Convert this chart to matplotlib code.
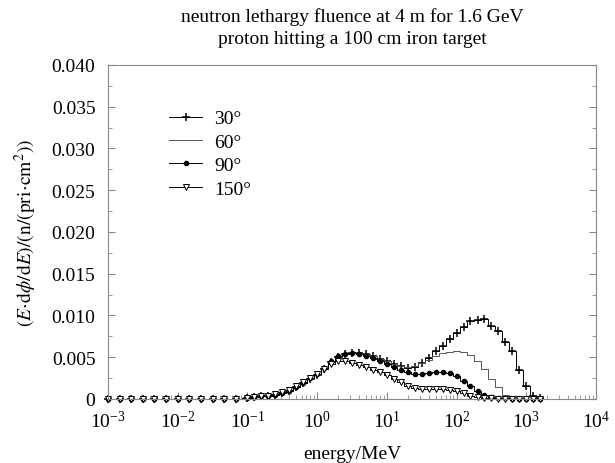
import matplotlib
matplotlib.use("Agg")
import matplotlib.pyplot as plt
from matplotlib.ticker import MultipleLocator, FuncFormatter, LogLocator, NullFormatter

plt.rcParams["font.family"] = ["Liberation Serif", "DejaVu Serif"]
plt.rcParams["mathtext.fontset"] = "stix"

# bin centres (MeV): 1/6 decade below 0.1 MeV, 0.1 decade above
energy = [0.001, 0.00147, 0.00215, 0.00316, 0.00464, 0.00681,
          0.01, 0.0147, 0.0215, 0.0316, 0.0464, 0.0681,
          0.1, 0.126, 0.158, 0.2, 0.251, 0.316, 0.398, 0.501, 0.631, 0.794,
          1.0, 1.26, 1.58, 2.0, 2.51, 3.16, 3.98, 5.01, 6.31, 7.94,
          10.0, 12.6, 15.8, 20.0, 25.1, 31.6, 39.8, 50.1, 63.1, 79.4,
          100.0, 126.0, 158.0, 200.0, 251.0, 316.0, 398.0, 501.0, 631.0, 794.0,
          1000.0, 1259.0, 1585.0]

low = [0.0] * 12

deg30 = low + [0.0001, 0.0002, 0.0003, 0.0004, 0.0005, 0.0007, 0.0010, 0.0014, 0.0019, 0.0024,
               0.0029, 0.0036, 0.0044, 0.0050, 0.0054, 0.0055, 0.0055, 0.0054, 0.0051, 0.0048,
               0.0045, 0.0042, 0.0039, 0.0037, 0.0038, 0.0043, 0.0049, 0.0057, 0.0063, 0.0072,
               0.0079, 0.0086, 0.0093, 0.0095, 0.0096, 0.0087, 0.0081, 0.0068, 0.0057, 0.0035,
               0.0016, 0.0003, 0.0001]
deg60 = low + [0.0001, 0.0002, 0.0003, 0.0004, 0.0005, 0.0007, 0.0010, 0.0014, 0.0019, 0.0024,
               0.0029, 0.0036, 0.0044, 0.0050, 0.0054, 0.0055, 0.0055, 0.0054, 0.0051, 0.0048,
               0.0045, 0.0042, 0.0039, 0.0038, 0.0039, 0.0043, 0.0047, 0.0052, 0.0055, 0.0056,
               0.0057, 0.0056, 0.0053, 0.0046, 0.0036, 0.0024, 0.0014, 0.0005, 0.0002, 0.0001,
               0.0, 0.0, 0.0]
deg90 = low + [0.0001, 0.0002, 0.0003, 0.0004, 0.0005, 0.0007, 0.0010, 0.0014, 0.0019, 0.0025,
               0.0030, 0.0037, 0.0045, 0.0051, 0.0054, 0.0055, 0.0054, 0.0052, 0.0049, 0.0045,
               0.0042, 0.0038, 0.0035, 0.0032, 0.0030, 0.0030, 0.0031, 0.0032, 0.0032, 0.0031,
               0.0027, 0.0022, 0.0016, 0.0010, 0.0005, 0.0002, 0.0001, 0.0001, 0.0, 0.0,
               0.0, 0.0, 0.0]
deg150 = low + [0.0001, 0.0002, 0.0003, 0.0004, 0.0006, 0.0008, 0.0011, 0.0015, 0.0020, 0.0025,
                0.0030, 0.0036, 0.0042, 0.0046, 0.0045, 0.0043, 0.0041, 0.0038, 0.0035, 0.0032,
                0.0029, 0.0024, 0.0020, 0.0016, 0.0013, 0.0012, 0.0012, 0.0012, 0.0012, 0.0011,
                0.0010, 0.0007, 0.0004, 0.0002, 0.0001, 0.0001, 0.0, 0.0, 0.0, 0.0,
                0.0, 0.0, 0.0]

series = [
    ("30°", deg30, dict(color="black", marker="+", ms=6, mew=1.1)),
    ("60°", deg60, dict(color="#555555", marker=None)),
    ("90°", deg90, dict(color="black", marker="o", ms=3)),
    ("150°", deg150, dict(color="black", marker="v", ms=5, mfc="white", mew=0.7)),
]

fig = plt.figure(figsize=(6.15, 4.64), dpi=100)
ax = fig.add_axes([0.1756, 0.138, 0.7934, 0.72])

for lab, vals, style in series:
    ax.plot(energy, vals, drawstyle="steps-mid", lw=0.7, label=lab,
            clip_on=False, **style)

ax.set_xscale("log")
ax.set_xlim(1e-3, 1e4)
ax.set_ylim(0, 0.04)
ax.xaxis.set_major_locator(LogLocator(base=10, numticks=10))
ax.xaxis.set_minor_locator(LogLocator(base=10, subs=range(2, 10), numticks=20))
ax.xaxis.set_minor_formatter(NullFormatter())
ax.yaxis.set_major_locator(MultipleLocator(0.005))
ax.yaxis.set_minor_locator(MultipleLocator(0.0025))
ax.yaxis.set_major_formatter(FuncFormatter(lambda v, p: "0" if abs(v) < 1e-9 else f"{v:.3f}"))

for s in ax.spines.values():
    s.set_color("#888888")
ax.tick_params(which="both", direction="in", right=True, top=False,
               color="#888888", labelsize=14)
ax.tick_params(which="major", length=5)
ax.tick_params(which="minor", length=3)
ax.tick_params(axis="x", pad=8)
ax.tick_params(axis="y", pad=9)

ax.set_xlabel("energy/MeV", fontsize=14, labelpad=10)
ax.set_ylabel(r"$(E\!\cdot\!\mathrm{d}\phi/\mathrm{d}E)/(\mathrm{n}/(\mathrm{pri}\!\cdot\!\mathrm{cm}^2))$",
              fontsize=14, labelpad=9)
ax.set_title("neutron lethargy fluence at 4 m for 1.6 GeV\nproton hitting a 100 cm iron target",
             fontsize=14, pad=16, linespacing=1.35)

ax.legend(loc="upper left", bbox_to_anchor=(0.09, 0.918), frameon=False, fontsize=14,
          handlelength=1.7, labelspacing=0.3, handletextpad=0.6)

fig.savefig("out.png", dpi=100)
